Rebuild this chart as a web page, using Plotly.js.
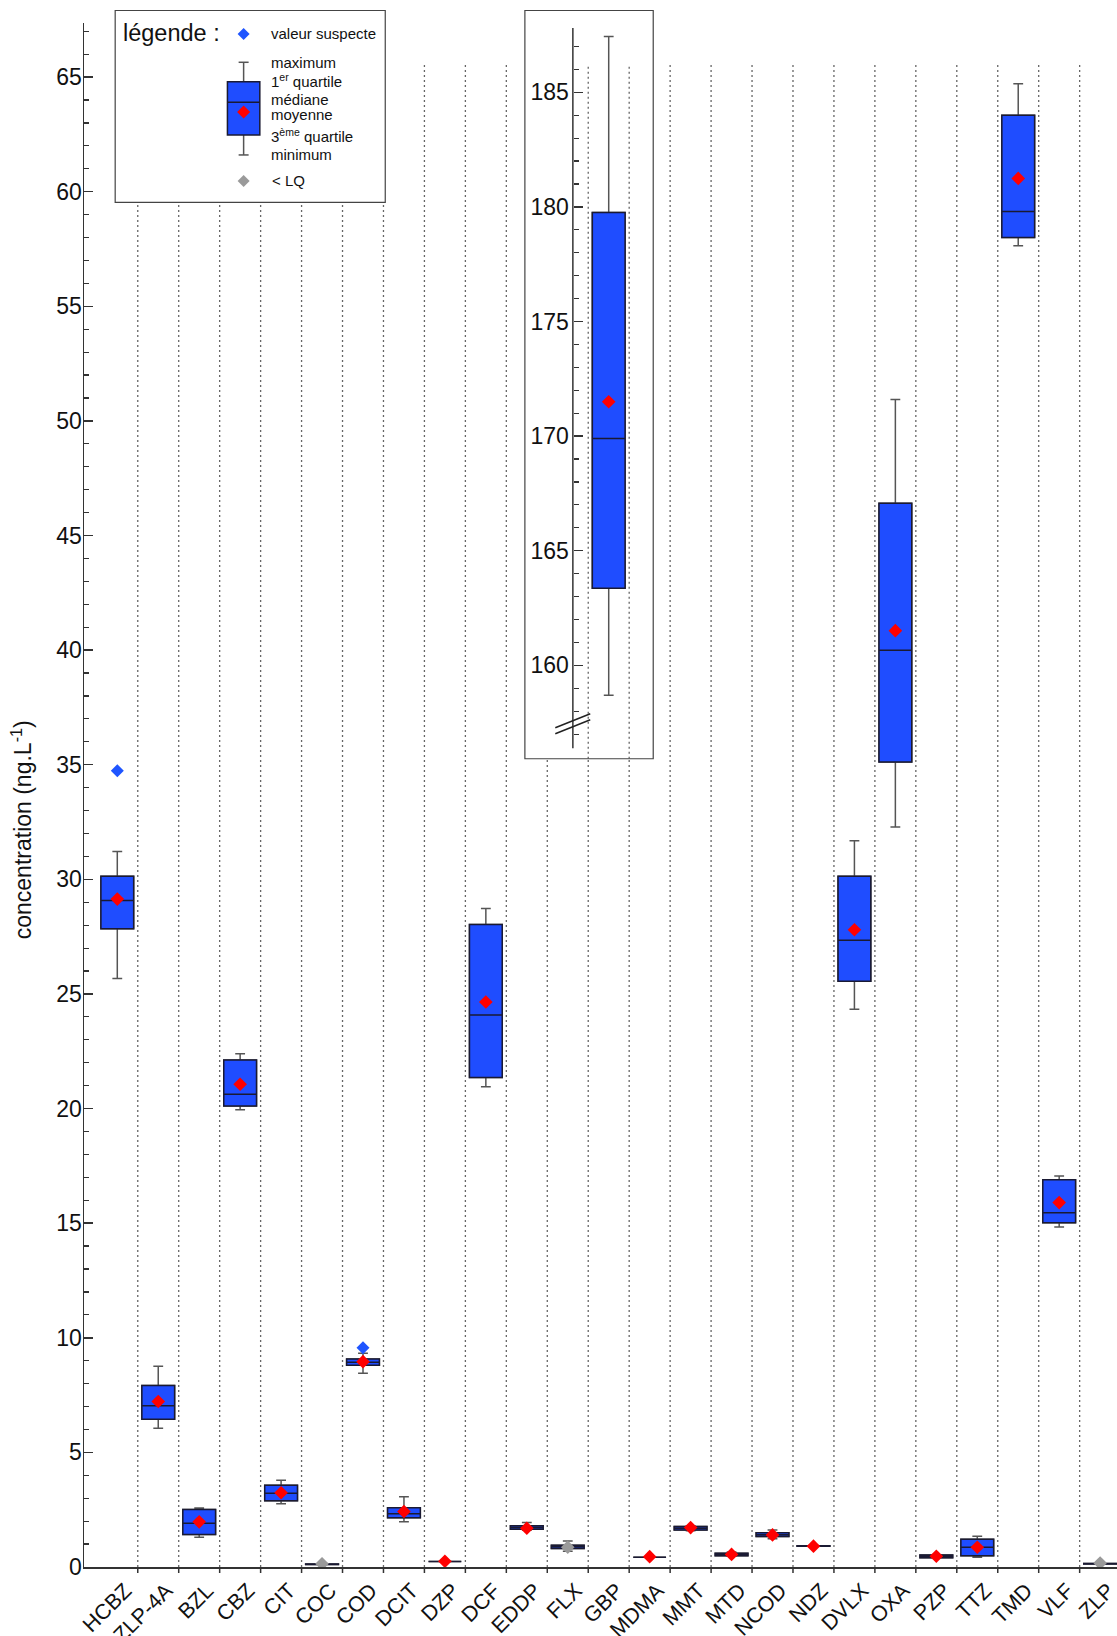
<!DOCTYPE html>
<html><head><meta charset="utf-8">
<script src="https://cdn.plot.ly/plotly-3.0.1.min.js"></script>
<style>html,body{margin:0;padding:0;background:#fff}#chart{width:1117px;height:1636px}</style>
</head><body><div id="chart"></div>
<script>
// ---------- data ----------
const categories = ['HCBZ','ZLP-4A','BZL','CBZ','CIT','COC','COD','DCIT','DZP','DCF','EDDP','FLX','GBP','MDMA','MMT','MTD','NCOD','NDZ','DVLX','OXA','PZP','TTZ','TMD','VLF','ZLP'];
const minimum = [25.67, 6.05, 1.30, 19.95, 2.76, 0.10, 8.45, 1.97, 0.24, 20.95, 1.60, 0.69, 158.7, 0.43, 1.58, 0.47, 1.23, 0.90, 24.33, 32.28, 0.40, 0.43, 57.64, 14.83, 0.12];
const quartile1 = [27.85, 6.45, 1.42, 20.11, 2.89, 0.11, 8.80, 2.15, 0.24, 21.36, 1.65, 0.81, 163.36, 0.43, 1.61, 0.49, 1.33, 0.91, 25.56, 35.12, 0.40, 0.49, 58.00, 15.02, 0.13];
const medianV = [29.08, 7.03, 1.91, 20.62, 3.22, 0.12, 8.93, 2.32, 0.24, 24.08, 1.72, 0.88, 169.9, 0.43, 1.69, 0.55, 1.41, 0.92, 27.34, 40.00, 0.46, 0.86, 59.14, 15.46, 0.14];
const quartile3 = [30.13, 7.92, 2.51, 22.12, 3.57, 0.13, 9.08, 2.59, 0.24, 28.03, 1.80, 0.95, 179.75, 0.43, 1.77, 0.60, 1.49, 0.93, 30.13, 46.41, 0.52, 1.21, 63.34, 16.90, 0.15];
const maximum = [31.22, 8.76, 2.57, 22.39, 3.79, 0.14, 9.33, 3.07, 0.24, 28.73, 1.94, 1.13, 187.43, 0.43, 1.80, 0.65, 1.61, 0.94, 31.68, 50.93, 0.52, 1.34, 64.71, 17.06, 0.16];
const meanV = [29.14, 7.22, 1.97, 21.06, 3.24, 0.14, 8.96, 2.42, 0.25, 24.65, 1.69, 0.86, 171.5, 0.45, 1.72, 0.55, 1.40, 0.91, 27.80, 40.85, 0.47, 0.86, 60.58, 15.90, 0.17];
const belowLQ = ['COC', 'FLX', 'ZLP'];
const suspectCats = ['HCBZ', 'COD'];
const suspectVals = [34.74, 9.56];
const insetCat = 'GBP';
const mainYTicks = [0,5,10,15,20,25,30,35,40,45,50,55,60,65];
const insetYTicks = [160,165,170,175,180,185];
const insetYMinor = [157,158,159,161,162,163,164,166,167,168,169,171,172,173,174,176,177,178,179,181,182,183,184,186,187];

// ---------- geometry helpers ----------
const W = 1117, H = 1636;
const M = {l: 83.5, r: 0, t: 10, b: 68.5};
const PW = W - M.l - M.r, PH = H - M.t - M.b;
const fx = px => (px - M.l) / PW;
const fy = py => (H - M.b - py) / PH;
const FONT = 'Liberation Sans, Arial, sans-serif';
const BLUE = '#1f4dff', RED = '#ff0000', GRAY = '#9a9a9a', SUSP = '#1f55ff';
const DARK = '#1a1a33', WHISK = '#555555', AX = '#333333';

const xRange = [-0.8128, 24.412];
const yMainTop = 67.36;
const y2Range = [155.925, 188.589];

// ---------- split main / inset ----------
const mainIdx = categories.map((c, i) => i).filter(i => categories[i] !== insetCat);
const insIdx = categories.map((c, i) => i).filter(i => categories[i] === insetCat);
const pick = (arr, idx) => idx.map(i => arr[i]);

function boxPair(idx, xa, ya) {
  const common = {
    type: 'box', x: pick(categories, idx), q1: pick(quartile1, idx), median: pick(medianV, idx),
    q3: pick(quartile3, idx), boxpoints: false, width: 0.8, fillcolor: BLUE,
    xaxis: xa, yaxis: ya, hoverinfo: 'skip', showlegend: false
  };
  const whisk = Object.assign({}, common, {
    lowerfence: pick(minimum, idx), upperfence: pick(maximum, idx),
    whiskerwidth: 0.3, line: {color: WHISK, width: 1.5}
  });
  const body = Object.assign({}, common, {
    lowerfence: pick(quartile1, idx), upperfence: pick(quartile3, idx),
    whiskerwidth: 0, line: {color: DARK, width: 1.5}
  });
  return [whisk, body];
}
function meanTrace(idx, xa, ya) {
  return {
    type: 'scatter', mode: 'markers', x: pick(categories, idx), y: pick(meanV, idx),
    xaxis: xa, yaxis: ya, hoverinfo: 'skip', showlegend: false,
    marker: {symbol: 'diamond', size: 10.5, line: {width: 0},
      color: pick(categories, idx).map(c => belowLQ.includes(c) ? GRAY : RED)}
  };
}

const traces = [
  ...boxPair(mainIdx, 'x', 'y'),
  ...boxPair(insIdx, 'x2', 'y2'),
  meanTrace(mainIdx, 'x', 'y'),
  meanTrace(insIdx, 'x2', 'y2'),
  {type: 'scatter', mode: 'markers', x: suspectCats, y: suspectVals, xaxis: 'x', yaxis: 'y',
   hoverinfo: 'skip', showlegend: false,
   marker: {symbol: 'diamond', size: 10, color: SUSP, line: {width: 0}}}
];

// ---------- shapes ----------
const shapes = [];
const nB = categories.length - 1;
for (let k = 0; k < nB; k++) {
  shapes.push({type: 'line', xref: 'x', yref: 'y', x0: k + 0.5, x1: k + 0.5, y0: 0, y1: 65.55,
    layer: 'below', line: {color: '#666666', width: 1.3, dash: '2px,3px'}});
}
shapes.push({type: 'rect', xref: 'x2', yref: 'y2', x0: 9.954, x1: 13.087, y0: y2Range[0], y1: y2Range[1],
  layer: 'below', fillcolor: '#ffffff', line: {width: 0}});
const gi = categories.indexOf(insetCat);
[gi - 0.5, gi + 0.5].forEach(xv => shapes.push({type: 'line', xref: 'x2', yref: 'y2', x0: xv, x1: xv,
  y0: y2Range[0], y1: 186.2, layer: 'below', line: {color: '#666666', width: 1.3, dash: '2px,3px'}}));
shapes.push({type: 'rect', xref: 'paper', yref: 'paper', x0: fx(524.6), x1: fx(653), y0: fy(759), y1: fy(10.5),
  layer: 'above', line: {color: '#444', width: 1.2}, fillcolor: 'rgba(0,0,0,0)'});
const y2pos = fx(572.6);
shapes.push({type: 'line', xref: 'paper', yref: 'y2', x0: y2pos, x1: y2pos, y0: 156.38, y1: 187.8,
  layer: 'above', line: {color: AX, width: 1.5}});
[[0, 0], [0, 6]].forEach(([dx, dy]) => shapes.push({type: 'line', xref: 'paper', yref: 'paper',
  x0: fx(555 + dx), y0: fy(728 + dy), x1: fx(590 + dx), y1: fy(714 + dy), layer: 'above',
  line: {color: '#222', width: 1.5}}));
for (let k = 0; k < nB; k++) {
  shapes.push({type: 'line', xref: 'x', yref: 'paper', x0: k + 0.5, x1: k + 0.5, y0: 0, y1: -6 / PH,
    layer: 'above', line: {color: AX, width: 1.5}});
}
shapes.push({type: 'rect', xref: 'paper', yref: 'paper', x0: fx(114.7), x1: fx(384.9), y0: fy(202.5), y1: fy(10.5),
  layer: 'above', fillcolor: '#ffffff', line: {color: '#444', width: 1.2}});
const lx = 243.2;
const diamond = (cx, cy, r) => `M ${fx(cx)} ${fy(cy - r)} L ${fx(cx + r)} ${fy(cy)} L ${fx(cx)} ${fy(cy + r)} L ${fx(cx - r)} ${fy(cy)} Z`;
shapes.push({type: 'line', xref: 'paper', yref: 'paper', x0: fx(lx), x1: fx(lx), y0: fy(62.3), y1: fy(155), layer: 'above', line: {color: WHISK, width: 1.5}});
shapes.push({type: 'line', xref: 'paper', yref: 'paper', x0: fx(lx - 5), x1: fx(lx + 5), y0: fy(62.3), y1: fy(62.3), layer: 'above', line: {color: WHISK, width: 1.5}});
shapes.push({type: 'line', xref: 'paper', yref: 'paper', x0: fx(lx - 5), x1: fx(lx + 5), y0: fy(155), y1: fy(155), layer: 'above', line: {color: WHISK, width: 1.5}});
shapes.push({type: 'rect', xref: 'paper', yref: 'paper', x0: fx(227), x1: fx(259.4), y0: fy(135), y1: fy(81.7), layer: 'above', fillcolor: BLUE, line: {color: DARK, width: 1.5}});
shapes.push({type: 'line', xref: 'paper', yref: 'paper', x0: fx(227), x1: fx(259.4), y0: fy(102.3), y1: fy(102.3), layer: 'above', line: {color: DARK, width: 1.5}});
shapes.push({type: 'path', xref: 'paper', yref: 'paper', path: diamond(lx, 112, 6.5), layer: 'above', fillcolor: RED, line: {width: 0}});
shapes.push({type: 'path', xref: 'paper', yref: 'paper', path: diamond(lx, 34, 6), layer: 'above', fillcolor: SUSP, line: {width: 0}});
shapes.push({type: 'path', xref: 'paper', yref: 'paper', path: diamond(lx, 181, 6), layer: 'above', fillcolor: GRAY, line: {width: 0}});

// ---------- annotations ----------
const ann = (text, px, py, size, extra) => Object.assign({xref: 'paper', yref: 'paper', x: fx(px), y: fy(py),
  text: text, showarrow: false, xanchor: 'left', yanchor: 'middle', font: {family: FONT, size: size, color: '#111'}}, extra || {});
const annotations = [
  ann('légende :', 121, 33.5, 23.5),
  ann('valeur suspecte', 269, 34, 15),
  ann('maximum', 269, 62.5, 15),
  ann('1<sup>er</sup> quartile', 269, 80.5, 15),
  ann('médiane', 269, 100, 15),
  ann('moyenne', 269, 114.3, 15),
  ann('3<sup>ème</sup> quartile', 269, 136, 15),
  ann('minimum', 269, 154.3, 15),
  ann('&lt; LQ', 270, 181, 15),
  ann('concentration (ng.L<sup>-1</sup>)', 21, 830, 23, {textangle: -90, xanchor: 'center'})
];

const layout = {
  width: W, height: H, margin: M, paper_bgcolor: '#fff', plot_bgcolor: 'rgba(0,0,0,0)',
  showlegend: false, boxmode: 'overlay',
  font: {family: FONT, color: '#111'},
  xaxis: {type: 'category', categoryorder: 'array', categoryarray: categories, range: xRange,
    showline: true, linecolor: AX, linewidth: 1.5, showgrid: false, zeroline: false,
    ticks: '', tickangle: -45, ticklabelshift: 8, ticklabelstandoff: 1,
    tickfont: {family: FONT, size: 21.5, color: '#111'}, anchor: 'y', domain: [0, 1]},
  yaxis: {range: [0, yMainTop], domain: [0, fy(23)], anchor: 'x', showline: true, linecolor: AX, linewidth: 1.5,
    showgrid: false, zeroline: false, ticks: 'inside', ticklen: 9, tickwidth: 1.5, tickcolor: AX,
    tickmode: 'array', tickvals: mainYTicks, ticktext: mainYTicks.map(String), ticklabelstandoff: -4,
    minor: {ticks: 'inside', ticklen: 5, tickwidth: 1.2, tickcolor: AX, dtick: 1, tick0: 0, showgrid: false},
    tickfont: {family: FONT, size: 23, color: '#111'}},
  xaxis2: {type: 'category', categoryorder: 'array', categoryarray: categories, range: xRange,
    anchor: 'y2', domain: [0, 1], visible: false},
  yaxis2: {range: y2Range, domain: [fy(759), 1], anchor: 'free', position: y2pos, side: 'left',
    showline: false, showgrid: false, zeroline: false, ticks: 'inside', ticklen: 9, tickwidth: 1.5, tickcolor: AX,
    tickmode: 'array', tickvals: insetYTicks, ticktext: insetYTicks.map(String), ticklabelstandoff: 4,
    minor: {ticks: 'inside', ticklen: 5, tickwidth: 1.2, tickcolor: AX, tickmode: 'array', tickvals: insetYMinor, showgrid: false},
    tickfont: {family: FONT, size: 23, color: '#111'}},
  shapes: shapes,
  annotations: annotations
};

Plotly.newPlot('chart', traces, layout, {staticPlot: true, displayModeBar: false});
</script>
</body></html>
